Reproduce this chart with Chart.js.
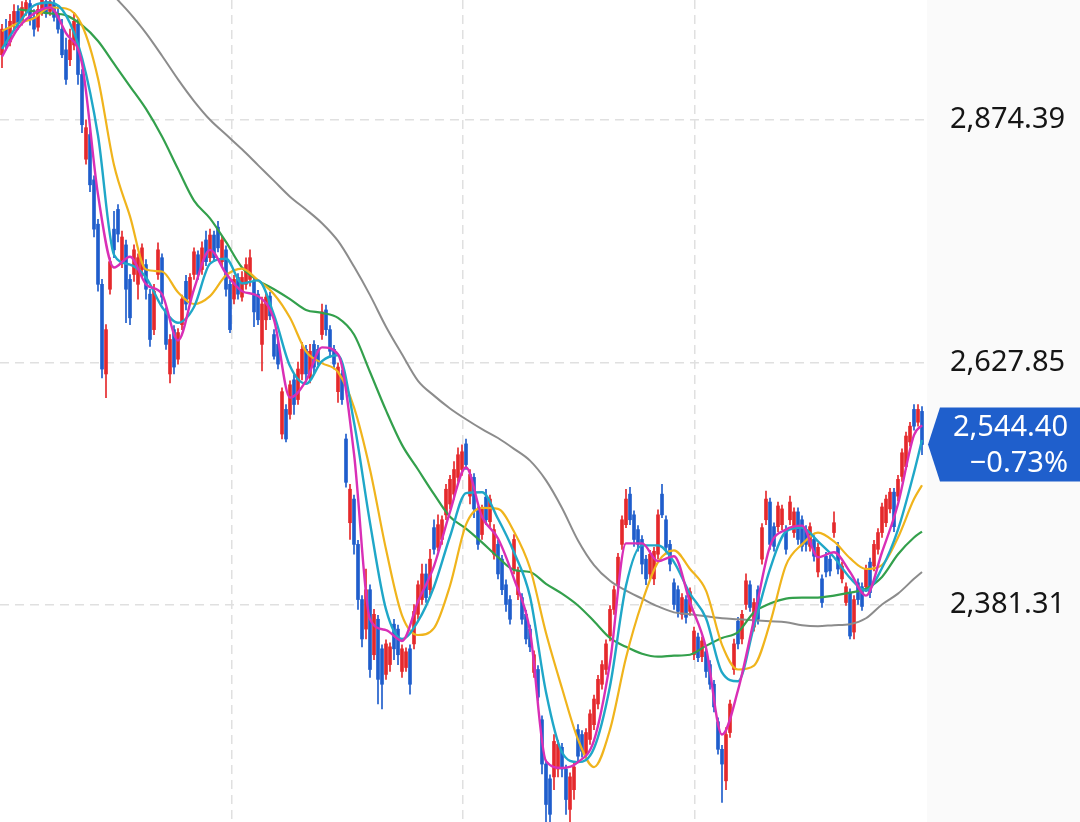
<!DOCTYPE html>
<html><head><meta charset="utf-8">
<script src="https://cdn.jsdelivr.net/npm/chart.js@4.4.1/dist/chart.umd.min.js"></script>
<style>html,body{margin:0;padding:0;background:#fff;}#wrap{width:1080px;height:822px;position:relative}</style>
</head><body><div id="wrap"><canvas id="c"></canvas></div>
<script>
const opens=[2940,2966,2953,2971,2984,2974,2986,2992,2978,2968,
2984,2994,2984,2992,2982,2966,2945,2935,2950,2971,
2920,2834,2859,2813,2768,2707,2616,2702,2763,2783,
2730,2747,2712,2717,2707,2722,2727,2697,2661,2717,
2734,2679,2616,2661,2631,2666,2710,2692,2717,2737,
2722,2752,2734,2757,2765,2730,2742,2707,2692,2714,
2694,2707,2712,2710,2697,2646,2671,2695,2656,2646,
2555,2580,2575,2610,2590,2616,2641,2612,2646,2641,
2656,2681,2661,2641,2598,2616,2550,2465,2489,2443,
2387,2357,2397,2331,2367,2337,2311,2321,2362,2357,
2314,2318,2337,2342,2372,2387,2413,2397,2460,2440,
2448,2473,2484,2494,2511,2519,2545,2492,2511,2477,
2453,2491,2466,2433,2443,2428,2402,2387,2418,2392,
2389,2372,2357,2313,2316,2265,2220,2205,2207,2215,
2237,2215,2174,2194,2255,2250,2230,2245,2260,2281,
2301,2316,2350,2377,2402,2443,2463,2494,2473,2458,
2448,2428,2413,2408,2433,2494,2468,2443,2404,2397,
2372,2387,2375,2331,2349,2329,2334,2321,2301,2263,
2235,2203,2252,2316,2365,2347,2382,2402,2359,2397,
2428,2468,2486,2461,2461,2463,2458,2468,2455,2476,
2468,2458,2441,2448,2415,2408,2431,2428,2455,2441,
2408,2384,2394,2354,2404,2400,2400,2425,2421,2438,
2455,2465,2479,2496,2492,2512,2522,2547,2580,2567,2578];
const closes=[2966,2950,2974,2984,2972,2988,2993,2976,2966,2986,
2996,2982,2994,2978,2966,2940,2915,2955,2974,2920,
2869,2866,2808,2763,2707,2621,2661,2730,2742,2758,
2755,2702,2673,2742,2734,2744,2702,2651,2700,2742,
2694,2646,2651,2623,2658,2692,2687,2714,2740,2717,
2744,2730,2757,2734,2744,2752,2702,2661,2712,2697,
2714,2727,2734,2679,2671,2687,2694,2675,2634,2626,
2598,2550,2605,2585,2621,2641,2616,2639,2623,2629,
2679,2661,2639,2626,2623,2590,2506,2499,2443,2387,
2347,2397,2316,2372,2306,2301,2342,2339,2337,2331,
2337,2334,2301,2375,2402,2413,2389,2428,2438,2463,
2468,2499,2509,2519,2534,2537,2524,2514,2479,2443,
2479,2468,2489,2458,2413,2397,2382,2367,2448,2416,
2367,2347,2339,2331,2288,2220,2179,2169,2243,2240,
2215,2184,2207,2217,2228,2233,2252,2271,2286,2306,
2321,2342,2377,2397,2430,2468,2489,2468,2448,2443,
2423,2408,2433,2436,2473,2473,2440,2423,2382,2375,
2389,2369,2395,2355,2328,2345,2314,2301,2278,2235,
2220,2250,2281,2342,2342,2372,2406,2379,2384,2367,
2460,2489,2443,2441,2482,2479,2438,2486,2476,2448,
2441,2443,2461,2431,2440,2384,2415,2416,2465,2418,
2421,2400,2350,2387,2387,2380,2418,2394,2443,2455,
2481,2489,2496,2461,2509,2536,2553,2563,2563,2580,2544.40];
const highs=[2971,2976,2981,2991,2990,2994,3000,3000,2986,2992,
3004,3002,3000,2998,2990,2976,2957,2966,2983,2976,
2925,2874,2864,2817,2773,2712,2666,2734,2781,2788,
2761,2752,2717,2747,2738,2748,2732,2702,2707,2749,
2738,2683,2656,2665,2662,2696,2716,2718,2744,2741,
2750,2761,2763,2761,2771,2756,2746,2711,2716,2718,
2720,2734,2742,2714,2701,2694,2698,2699,2661,2650,
2602,2585,2609,2615,2628,2648,2645,2646,2650,2645,
2687,2686,2665,2645,2627,2620,2555,2504,2493,2447,
2391,2418,2402,2377,2371,2341,2346,2343,2367,2361,
2341,2338,2341,2382,2406,2423,2423,2438,2468,2473,
2472,2504,2513,2527,2541,2544,2550,2519,2515,2481,
2483,2499,2493,2463,2447,2432,2407,2391,2453,2420,
2393,2376,2361,2335,2320,2269,2224,2209,2250,2244,
2241,2219,2211,2221,2260,2254,2256,2275,2290,2310,
2325,2346,2381,2401,2434,2472,2499,2501,2477,2462,
2452,2432,2437,2440,2478,2504,2472,2447,2408,2401,
2393,2391,2399,2359,2353,2349,2339,2325,2305,2267,
2239,2257,2285,2347,2369,2376,2413,2406,2388,2401,
2464,2497,2490,2465,2486,2483,2462,2492,2480,2480,
2472,2462,2465,2452,2444,2412,2435,2432,2476,2445,
2425,2404,2398,2391,2408,2404,2422,2429,2447,2459,
2485,2493,2500,2500,2513,2540,2557,2567,2585,2585,2583];
const lows=[2927,2945,2949,2966,2966,2970,2980,2970,2959,2964,
2980,2978,2980,2974,2962,2937,2910,2929,2945,2910,
2861,2829,2801,2755,2700,2612,2592,2697,2734,2750,
2724,2668,2666,2710,2692,2714,2692,2644,2656,2712,
2687,2641,2607,2616,2626,2661,2681,2687,2712,2712,
2717,2726,2730,2730,2740,2724,2695,2658,2687,2692,
2690,2702,2705,2664,2666,2619,2661,2671,2631,2621,
2550,2547,2570,2575,2585,2610,2608,2607,2616,2625,
2651,2655,2633,2621,2587,2585,2501,2448,2433,2377,
2339,2347,2308,2326,2281,2276,2306,2314,2326,2321,
2308,2314,2291,2337,2367,2382,2384,2392,2433,2436,
2443,2468,2479,2489,2507,2513,2519,2484,2470,2438,
2448,2463,2461,2428,2408,2392,2375,2362,2413,2387,
2362,2342,2334,2308,2284,2210,2159,2159,2194,2207,
2207,2169,2159,2184,2223,2227,2225,2240,2255,2276,
2296,2311,2345,2372,2397,2438,2460,2463,2441,2436,
2413,2402,2408,2402,2428,2470,2433,2416,2377,2369,
2367,2363,2371,2326,2324,2324,2308,2296,2273,2230,
2181,2194,2247,2311,2337,2342,2377,2375,2355,2362,
2423,2463,2438,2436,2456,2458,2433,2463,2450,2443,
2436,2436,2436,2426,2410,2379,2410,2411,2450,2413,
2404,2381,2347,2347,2382,2376,2395,2389,2416,2433,
2450,2461,2475,2456,2487,2507,2519,2543,2559,2563,2534];

// moving averages, read at every 4th session
const maIdx=[0,4,8,12,16,20,24,28,32,36,40,44,48,52,56,60,64,68,72,76,80,84,88,92,96,100,104,108,112,116,120,124,128,132,136,140,144,148,152,156,160,164,168,172,176,180,184,188,192,196,200,204,208,212,216,220,224,228,230];
const ma5=[2938,2967,2982,2988,2962,2931,2798,2724,2735,2707,2697,2650,2702,2742,2718,2700,2695,2671,2592,2609,2643,2636,2535,2367,2356,2345,2385,2421,2476,2521,2471,2449,2408,2355,2223,2216,2222,2244,2323,2444,2444,2426,2431,2384,2338,2250,2295,2367,2441,2458,2462,2430,2435,2415,2391,2435,2484,2554,2564];
const ma10=[2946,2971,2990,2993,2980,2937,2858,2737,2727,2714,2684,2668,2684,2728,2733,2708,2711,2676,2624,2606,2629,2635,2567,2465,2377,2347,2365,2400,2451,2495,2496,2469,2435,2390,2293,2232,2222,2236,2299,2401,2442,2442,2425,2393,2368,2313,2304,2360,2418,2456,2460,2446,2430,2409,2396,2419,2458,2516,2549];
const ma20=[2964,2972,2977,2988,2987,2970,2916,2828,2776,2722,2720,2699,2687,2695,2716,2723,2711,2697,2673,2639,2627,2618,2582,2519,2438,2371,2351,2358,2401,2463,2480,2479,2456,2419,2353,2297,2245,2217,2255,2328,2384,2425,2437,2418,2396,2341,2316,2320,2363,2422,2443,2455,2446,2429,2418,2422,2450,2489,2503];
const ma60=[null,2986,2984,2982,2980,2970,2954,2931,2908,2885,2857,2824,2792,2774,2750,2724,2711,2702,2692,2681,2678,2673,2656,2618,2579,2544,2519,2494,2471,2459,2445,2430,2417,2415,2403,2393,2381,2365,2348,2339,2332,2329,2330,2331,2340,2348,2354,2374,2383,2388,2389,2389,2391,2394,2398,2410,2433,2450,2456];
const ma120=[null,null,null,null,null,null,3021,3000,2982,2962,2939,2915,2893,2874,2859,2844,2828,2812,2796,2783,2769,2751,2725,2696,2664,2636,2609,2594,2581,2570,2560,2551,2540,2528,2508,2480,2447,2422,2406,2396,2388,2380,2374,2372,2370,2368,2367,2366,2365,2364,2361,2360,2361,2362,2368,2382,2393,2408,2415];

const yTicks=[2381.31,2627.85,2874.39];
const lastChange='\u22120.73%';

const UP='#e5292c', DOWN='#1f5dcc';
const colors=closes.map((c,i)=>c>=opens[i]?UP:DOWN);
const bodies=opens.map((o,i)=>({x:i,y:[o,closes[i]]}));
const wicks=lows.map((l,i)=>({x:i,y:[l,highs[i]]}));
const ma=(vals,color,order,w)=>({type:'line',data:maIdx.map((x,k)=>({x,y:vals[k]})),borderColor:color,borderWidth:w,pointRadius:0,cubicInterpolationMode:'monotone',fill:false,order});
const fmt=v=>v.toLocaleString('en-US',{minimumFractionDigits:2,maximumFractionDigits:2});

const panelBg={id:'panelBg',beforeDraw(ch){const c=ch.ctx,a=ch.chartArea;c.save();c.fillStyle='#ffffff';c.fillRect(0,0,ch.width,ch.height);c.fillStyle='#fafafa';c.fillRect(a.right+2,0,ch.width-a.right-2,ch.height);c.restore();}};
const priceTag={id:'priceTag',afterDraw(ch){
  const c=ch.ctx,a=ch.chartArea,y=ch.scales.y.getPixelForValue(closes[closes.length-1]);
  const h=37,x0=a.right+3,x1=x0+12,x2=ch.width;
  c.save();c.fillStyle='#1f5fcc';c.beginPath();c.moveTo(x0,y);c.lineTo(x1,y-h);c.lineTo(x2,y-h);c.lineTo(x2,y+h);c.lineTo(x1,y+h);c.closePath();c.fill();
  c.fillStyle='#ffffff';c.font='29px "Noto Sans"';c.textAlign='right';c.textBaseline='middle';
  c.fillText(fmt(closes[closes.length-1]),x2-12,y-17);c.fillText(lastChange,x2-12,y+19);c.restore();}};

new Chart(document.getElementById('c'),{
  type:'bar',
  data:{datasets:[
    {data:wicks,backgroundColor:colors,barThickness:1,grouped:false,order:7,borderWidth:0},
    {data:bodies,backgroundColor:colors,barThickness:3,grouped:false,order:6,borderWidth:0,minBarLength:1},
    ma(ma120,'#8c8c8c',5,2),ma(ma60,'#33a04c',4,2.2),ma(ma20,'#f0b41c',3,2.2),ma(ma10,'#1fa7c8',2,2.4),ma(ma5,'#d92fb6',1,2.4)
  ]},
  options:{responsive:true,maintainAspectRatio:false,animation:false,
    layout:{padding:0},
    plugins:{legend:{display:false},tooltip:{enabled:false}},
    scales:{
      x:{type:'linear',min:-0.5,max:230.75,offset:false,
        afterBuildTicks:s=>{s.ticks=[57.5,115.25,173.25].map(v=>({value:v}));},
        afterFit:s=>{s.height=0;s.paddingLeft=0;s.paddingRight=0;},
        grid:{offset:false,color:'#e0e0e0',lineWidth:1.5,drawTicks:false},
        border:{display:false,dash:[9,6]},
        ticks:{display:false}},
      y:{position:'right',min:2161.2,max:2995.6,
        afterBuildTicks:s=>{s.ticks=yTicks.map(v=>({value:v}));},
        afterFit:s=>{s.width=155;s.paddingTop=0;s.paddingBottom=0;},
        grid:{color:'#e0e0e0',lineWidth:1.5,drawTicks:false},
        border:{display:false,dash:[9,6]},
        ticks:{padding:25,color:'#151515',font:{family:'"Noto Sans"',size:29},callback:v=>fmt(v)}}
    }
  },
  plugins:[panelBg,priceTag]
});
</script></body></html>
